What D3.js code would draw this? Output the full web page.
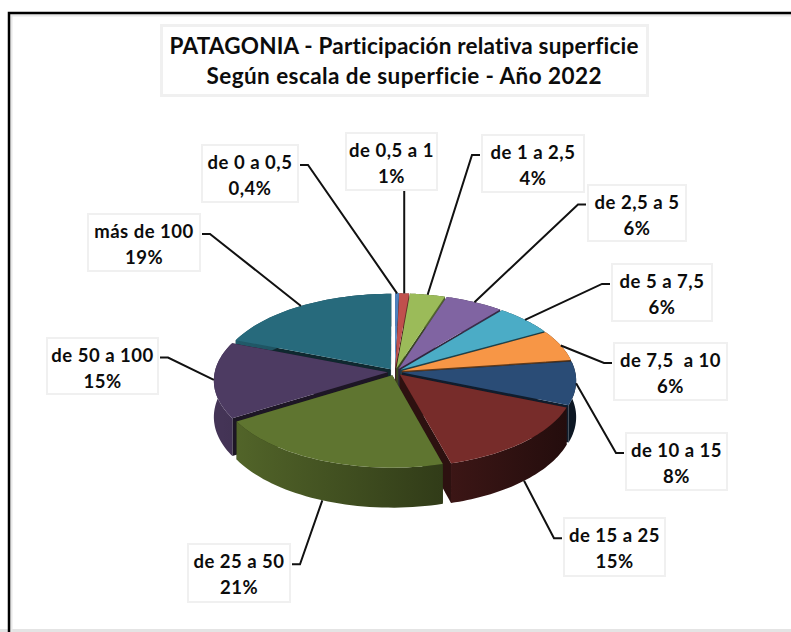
<!DOCTYPE html>
<html><head><meta charset="utf-8">
<script src="https://cdn.jsdelivr.net/npm/d3@7/dist/d3.min.js"></script>
<style>html,body{margin:0;padding:0;background:#fff;overflow:hidden}svg{display:block}text{font-family:Lato,Carlito,"Open Sans",sans-serif;font-weight:700;fill:#0c0c0c;white-space:pre;font-variant-ligatures:none}</style>
</head><body><svg id="c" width="791" height="632"></svg>
<script>
const titleLines = ["PATAGONIA - Participación relativa superficie", "Según escala de superficie - Año 2022"];
const titleWidths = [469, 395];
const categories = ["de 0 a 0,5","de 0,5 a 1","de 1 a 2,5","de 2,5 a 5","de 5 a 7,5","de 7,5  a 10","de 10 a 15","de 15 a 25","de 25 a 50","de 50 a 100","más de 100"];
const values = [0.4,1,3.6,6,6,6,8.4,14.6,20.6,14.8,19.2];
const percentLabels = ["0,4%","1%","4%","6%","6%","6%","8%","15%","21%","15%","19%"];
const colors = ["#4F81BD","#C0504D","#9BBB59","#8064A2","#4BACC6","#F79646","#2A4C76","#772C2A","#5F7530","#4D3B62","#276A7C"];
// label box layout: x0,y0,x1,y1, elbow side
const labelBoxes = [
 [202,145,298,202,-1],[346,133,437,190,0],[482,135,584,192,1],[588,185,686,241,1],
 [612,264,712,321,1],[614,343,727,400,1],[626,433,727,490,1],[564,518,665,576,1],
 [188,544,290,602,-1],[47,338,158,394,-1],[88,214,200,271,-1]];

const svg = d3.select("#c");
const cx=395, cy=372, rx=173, ry=83, persp=0.095, depth=36, explode=0.042;
const xS=d3.scaleLinear().domain([-1,1]).range([cx-rx,cx+rx]);
const yS=d3.scaleLinear().domain([-1,1]).range([cy-ry,cy+ry]);
function project(u,v,z){const s=1/(1-persp*v);
  return [cx+(xS(u)-cx)*s, cy+(yS(v)-cy)*s+depth*z*s];}
const arcs=d3.pie().sort(null).startAngle(0).endAngle(2*Math.PI).padAngle(0)(values)
  .map((d,i)=>({...d,i,mid:(d.startAngle+d.endAngle)/2}));
const line=d3.line();
function pt(d,r,a,z){return project(r*Math.sin(a)+explode*Math.sin(d.mid), -r*Math.cos(a)-explode*Math.cos(d.mid), z);}
function rim(d,z){return d3.range(0,41).map(k=>pt(d,1,d.startAngle+(d.endAngle-d.startAngle)*k/40,z));}
const shade=(hex,f)=>{const c=d3.rgb(hex);return d3.rgb(c.r*f,c.g*f,c.b*f).formatHex();};

// frame
svg.append("rect").attr("x",0).attr("y",0).attr("width",791).attr("height",632).attr("fill","#fff");
svg.append("rect").attr("x",0).attr("y",629).attr("width",791).attr("height",3).attr("fill","#e4e4e4");
svg.append("path").attr("d","M11,634V15H793").attr("fill","none").attr("stroke","#e8e8e8").attr("stroke-width",3);
svg.append("path").attr("d","M9,634V13H793").attr("fill","none").attr("stroke","#000").attr("stroke-width",2.5);

// title
svg.append("rect").attr("x",161.5).attr("y",25.5).attr("width",486).attr("height",70).attr("fill","#fff").attr("stroke","#f0f0f0").attr("stroke-width",3);
titleLines.forEach((t,i)=>svg.append("text").attr("x",404).attr("y",54+i*30).attr("text-anchor","middle").attr("font-size",22.5)
  .attr("textLength",titleWidths[i]).attr("lengthAdjust","spacing").text(t));

// slices
const defs=svg.append("defs");
const g=svg.append("g");
arcs.slice().sort((a,b)=>(-Math.cos(a.mid))-(-Math.cos(b.mid))).forEach(d=>{
  const col=colors[d.i], grad="w"+d.i;
  const lg=defs.append("linearGradient").attr("id",grad).attr("gradientUnits","userSpaceOnUse")
    .attr("x1",cx-rx).attr("x2",cx+rx).attr("y1",0).attr("y2",0);
  lg.append("stop").attr("offset",0).attr("stop-color",shade(col,.88));
  lg.append("stop").attr("offset",1).attr("stop-color",shade(col,.3));
  const apex=pt(d,0,0,0), apexB=pt(d,0,0,1);
  const top=rim(d,0), bot=rim(d,1);
  const wall=shade(col,.38);
  g.append("path").attr("d",line([apex,top[0],bot[0],apexB])+"Z").attr("fill",wall);
  g.append("path").attr("d",line([apex,top[40],bot[40],apexB])+"Z").attr("fill",wall);
  g.append("path").attr("d",line(top.concat(bot.slice().reverse()))+"Z").attr("fill",`url(#${grad})`);
  g.append("path").attr("d",line([apex].concat(top))+"Z").attr("fill",col);
});

// leaders and labels
arcs.forEach(d=>{
  const b=labelBoxes[d.i], side=b[4];
  const yc=b[1]+(b[3]-b[1])*0.35;
  const frontWall=d.mid>2.1&&d.mid<4.2;
  const end=pt(d,1,d.mid,frontWall?1:0);
  let pts;
  if(side===0) pts=[[end[0],b[3]],end];
  else if(side<0) pts=[[b[2]+2,yc],[b[2]+10,yc],end];
  else pts=[[b[0]-2,yc],[b[0]-10,yc],end];
  svg.append("path").attr("d",line(pts)).attr("fill","none").attr("stroke","#111").attr("stroke-width",2);
});
arcs.forEach(d=>{
  const b=labelBoxes[d.i], mx=(b[0]+b[2])/2;
  svg.append("rect").attr("x",b[0]).attr("y",b[1]).attr("width",b[2]-b[0]).attr("height",b[3]-b[1])
    .attr("fill","#fff").attr("stroke","#f0f0f0").attr("stroke-width",2);
  svg.append("text").attr("x",mx).attr("y",b[1]+24).attr("text-anchor","middle").attr("font-size",18.5).attr("letter-spacing",0.5).text(categories[d.i]);
  svg.append("text").attr("x",mx).attr("y",b[1]+50).attr("text-anchor","middle").attr("font-size",18.5).attr("letter-spacing",0.5).text(percentLabels[d.i]);
});
</script></body></html>
